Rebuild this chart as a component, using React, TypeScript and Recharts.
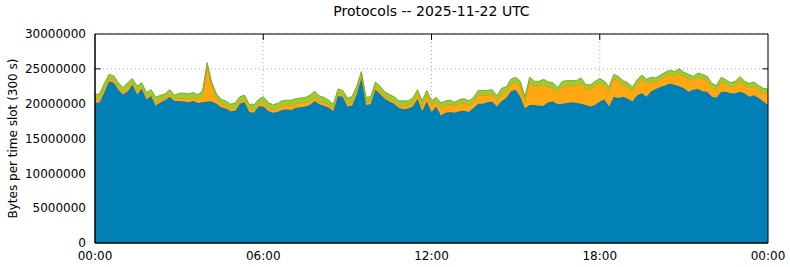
import React from 'react';
import { AreaChart, Area, XAxis, YAxis, CartesianGrid, ReferenceLine, Label } from 'recharts';

// one value per 10 minute slot, in millions of bytes
const blue = [
  20.1, 20.2, 21.6, 23.2, 23.0, 22.0, 21.3, 21.8, 22.7, 21.3, 22.1, 20.6,
  21.1, 19.7, 20.2, 20.5, 21.0, 20.4, 20.4, 20.3, 20.2, 20.4, 20.1, 20.2,
  20.3, 20.3, 20.0, 19.5, 19.3, 18.9, 19.0, 20.0, 20.2, 18.8, 18.7, 19.6,
  19.6, 19.0, 18.7, 18.8, 19.1, 19.2, 19.1, 19.4, 19.5, 19.6, 19.8, 20.4,
  19.9, 19.7, 19.4, 18.9, 21.1, 21.0, 19.6, 19.7, 21.3, 23.6, 19.8, 19.9,
  22.0, 21.4, 20.7, 20.3, 20.0, 19.4, 19.2, 19.3, 19.6, 20.7, 18.9, 20.3,
  18.8, 19.6, 18.3, 18.7, 18.8, 18.7, 18.9, 19.0, 18.8, 19.4, 20.0, 20.0,
  20.2, 20.3, 19.6, 20.4, 20.8, 21.8, 22.0, 21.0, 19.3, 19.8, 19.8, 19.7,
  19.7, 20.2, 20.3, 19.9, 20.0, 20.1, 20.2, 20.1, 20.0, 19.8, 19.6, 19.8,
  20.3, 20.6, 19.6, 21.0, 20.8, 21.0, 20.7, 20.3, 21.2, 21.5, 21.0, 21.8,
  22.1, 22.4, 22.6, 22.9, 22.7, 22.5, 22.2, 21.7, 22.0, 22.1, 21.8, 21.7,
  21.0, 20.9, 21.7, 21.7, 21.5, 21.5, 21.7, 21.5, 21.0, 21.2, 20.8, 20.3,
  19.8,
];
const orange = [
  0.5, 0.5, 0.6, 0.4, 0.4, 0.4, 0.4, 0.5, 0.3, 0.5, 0.3, 0.4,
  0.3, 0.5, 0.4, 0.3, 0.4, 0.3, 0.4, 0.5, 0.5, 0.5, 0.5, 1.0,
  5.0, 2.1, 0.8, 0.5, 0.5, 0.4, 0.5, 0.4, 0.4, 0.5, 0.5, 0.4,
  0.6, 0.5, 0.5, 0.5, 0.6, 0.6, 0.6, 0.6, 0.6, 0.6, 0.6, 0.6,
  0.5, 0.5, 0.5, 0.4, 0.4, 0.4, 0.5, 0.6, 0.5, 0.4, 0.5, 0.5,
  0.5, 0.5, 0.4, 0.4, 0.4, 0.4, 0.5, 0.5, 0.6, 0.7, 0.9, 1.0,
  1.0, 0.7, 1.1, 1.1, 1.1, 0.9, 1.1, 1.1, 1.0, 0.9, 1.2, 1.2,
  1.1, 1.1, 0.9, 1.1, 1.0, 1.0, 1.1, 1.5, 1.1, 3.3, 2.7, 2.8,
  3.1, 2.2, 2.0, 1.7, 2.5, 2.5, 2.4, 2.5, 3.0, 2.3, 2.5, 2.8,
  2.7, 2.0, 2.2, 2.6, 2.5, 1.7, 1.7, 1.5, 1.6, 2.0, 1.9, 1.4,
  1.0, 1.1, 1.3, 1.3, 1.3, 1.9, 1.7, 1.9, 1.3, 1.7, 1.8, 1.6,
  1.3, 1.1, 1.5, 1.1, 0.9, 1.1, 1.6, 1.1, 1.3, 1.3, 1.2, 1.3,
  1.7,
];
const green = [
  0.7, 0.7, 0.7, 0.6, 0.6, 0.6, 0.6, 0.7, 0.6, 0.7, 0.6, 0.6,
  0.6, 0.7, 0.6, 0.6, 0.6, 0.5, 0.7, 0.7, 0.7, 0.7, 0.7, 0.6,
  0.6, 0.6, 0.6, 0.6, 0.6, 0.6, 0.6, 0.6, 0.6, 0.6, 0.6, 0.6,
  0.8, 0.7, 0.6, 0.7, 0.7, 0.7, 0.8, 0.7, 0.7, 0.7, 0.8, 0.8,
  0.7, 0.7, 0.6, 0.6, 0.6, 0.5, 0.7, 0.7, 0.7, 0.6, 0.6, 0.6,
  0.6, 0.6, 0.6, 0.6, 0.6, 0.6, 0.7, 0.6, 0.6, 0.6, 0.6, 0.6,
  0.6, 0.6, 0.7, 0.6, 0.6, 0.6, 0.6, 0.6, 0.6, 0.6, 0.7, 0.7,
  0.6, 0.6, 0.6, 0.7, 0.6, 0.7, 0.7, 0.7, 0.6, 0.7, 0.7, 0.7,
  0.7, 0.7, 0.7, 0.7, 0.7, 0.7, 0.7, 0.7, 0.7, 0.6, 0.6, 0.6,
  0.6, 0.6, 0.6, 0.6, 0.6, 0.6, 0.6, 0.6, 0.6, 0.6, 0.6, 0.6,
  0.6, 0.6, 0.6, 0.6, 0.6, 0.6, 0.6, 0.6, 0.6, 0.6, 0.6, 0.6,
  0.6, 0.6, 0.6, 0.6, 0.6, 0.6, 0.6, 0.6, 0.6, 0.6, 0.6, 0.6,
  0.6,
];

const SLOT = 10; // minutes
const MB = 1000000;
const xTicks = [0, 360, 720, 1080, 1440];
const yTicks = [0, 5000000, 10000000, 15000000, 20000000, 25000000, 30000000];

const data = blue.map((b, i) => ({
  t: i * SLOT,
  blue: b * MB,
  orange: orange[i] * MB,
  green: green[i] * MB,
}));

const font = 'DejaVu Sans, sans-serif';

const fmtTime = (m: number) => `${String(Math.floor(m / 60) % 24).padStart(2, '0')}:00`;

const YTitle = ({ viewBox }: any) => {
  const cx = viewBox.x + 17;
  const cy = viewBox.y + viewBox.height / 2;
  return (
    <text x={cx} y={cy} transform={`rotate(-90 ${cx} ${cy})`} textAnchor="middle"
      fontFamily={font} fontSize={12} fill="#000">
      Bytes per time slot (300 s)
    </text>
  );
};

export default function App() {
  return (
    <div style={{ position: 'absolute', left: 0, top: 0, width: 790, height: 267, background: '#fff' }}>
      <div style={{ position: 'absolute', left: 95, width: 673, top: 3, textAlign: 'center',
        fontFamily: font, fontSize: 14, color: '#000' }}>
        Protocols -- 2025-11-22 UTC
      </div>
      <AreaChart width={790} height={267} data={data}
        margin={{ top: 34, right: 22, left: 0, bottom: 0 }}>
        <CartesianGrid stroke="#a8a8a8" strokeDasharray="1 3" ticks={yTicks as any} />
        <XAxis dataKey="t" type="number" domain={[0, 1440]} ticks={xTicks} tickFormatter={fmtTime}
          height={24} tickSize={0} tickMargin={8} tickLine={false} axisLine={{ stroke: '#000' }}
          tick={{ fill: '#000', fontSize: 12, fontFamily: font }} interval={0} />
        <YAxis type="number" domain={[0, 30000000]} ticks={yTicks} width={95} tickSize={0} tickMargin={9}
          tickLine={false} axisLine={{ stroke: '#000' }} interval={0}
          tick={{ fill: '#000', fontSize: 12, fontFamily: font }}>
          <Label content={<YTitle />} />
        </YAxis>
        <Area type="linear" dataKey="blue" stackId="p" fill="#0080b4" fillOpacity={1}
          stroke="#006f9c" strokeWidth={1} isAnimationActive={false} />
        <Area type="linear" dataKey="orange" stackId="p" fill="#ffa812" fillOpacity={1}
          stroke="#d98c00" strokeWidth={1} isAnimationActive={false} />
        <Area type="linear" dataKey="green" stackId="p" fill="#9acd32" fillOpacity={1}
          stroke="#79a826" strokeWidth={1} isAnimationActive={false} />
        <ReferenceLine segment={[{ x: 0, y: 25000000 }, { x: 12, y: 25000000 }]} stroke="#000" />
        <ReferenceLine segment={[{ x: 1428, y: 25000000 }, { x: 1440, y: 25000000 }]} stroke="#000" />
        {xTicks.slice(1, 4).map((x) => (
          <ReferenceLine key={x} segment={[{ x, y: 30000000 }, { x, y: 29150000 }]} stroke="#000" />
        ))}
        <ReferenceLine y={30000000} stroke="#000" />
        <ReferenceLine x={1440} stroke="#000" />
        <ReferenceLine y={0} stroke="#000" />
        <ReferenceLine x={0} stroke="#000" />
      </AreaChart>
    </div>
  );
}
